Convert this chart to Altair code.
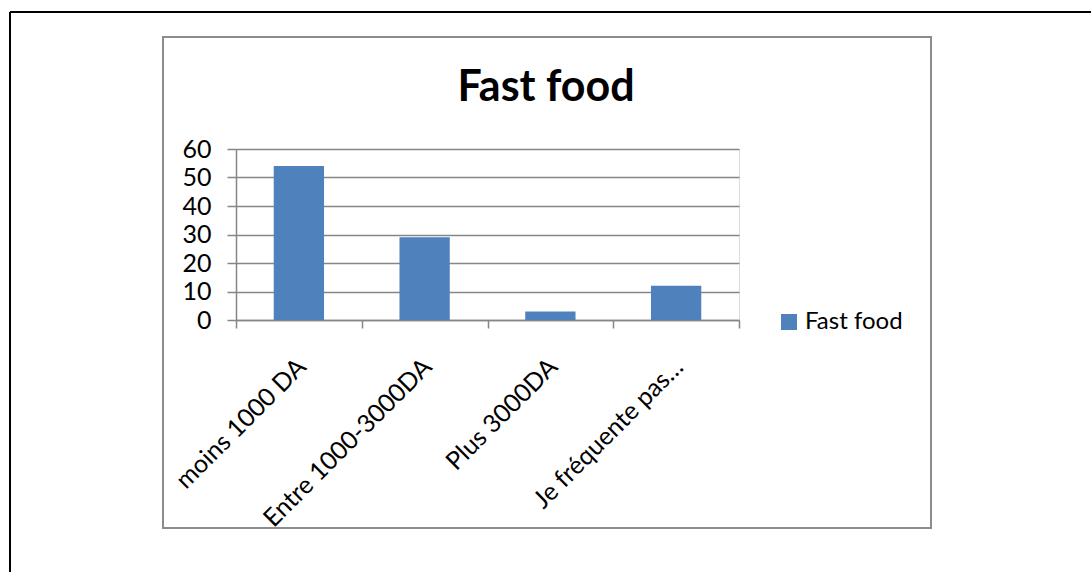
import altair as alt
import pandas as pd

# Spending categories and the share of answers for each
categories = ["moins 1000 DA", "Entre 1000-3000DA", "Plus 3000DA", "Je fréquente pas…"]
values = [54, 29, 3, 12]
series_name = "Fast food"
chart_title = "Fast food"

df = pd.DataFrame({"categorie": categories, "valeur": values, "serie": series_name})

FONT = "Lato"
GRAY = "#868686"
BLUE = "#4f81bd"
TEXT_SIZE = 25

one_row = alt.Data(values=[{}])

# Page frame (top and left edges) and the chart-area border
page_top = alt.Chart(one_row).mark_rule(color="black", strokeWidth=2).encode(
    x=alt.value(-226), x2=alt.value(860), y=alt.value(-137)
)
page_left = alt.Chart(one_row).mark_rule(color="black", strokeWidth=2).encode(
    x=alt.value(-226), y=alt.value(-137), y2=alt.value(430)
)
chart_box = alt.Chart(one_row).mark_rect(
    fillOpacity=0, stroke="#8c8c8c", strokeWidth=2
).encode(
    x=alt.value(-73), x2=alt.value(695), y=alt.value(-112), y2=alt.value(379)
)

# Chart heading, centred over the chart area
heading = alt.Chart(one_row).mark_text(
    text=chart_title,
    font=FONT,
    fontSize=43,
    fontWeight="bold",
    color="black",
    align="center",
    baseline="alphabetic",
).encode(x=alt.value(310), y=alt.value(-48))

bars = alt.Chart(df).mark_bar(width=alt.RelativeBandSize(0.4), color=BLUE).encode(
    x=alt.X(
        "categorie:N",
        sort=None,
        scale=alt.Scale(paddingInner=0, paddingOuter=0),
        axis=alt.Axis(
            title=None,
            labelAngle=-45,
            labelAlign="right",
            labelBaseline="top",
            labelPadding=26,
            labelOffset=-6,
            labelFont=FONT,
            labelFontSize=TEXT_SIZE,
            labelColor="black",
            tickBand="extent",
            tickSize=8,
            tickColor=GRAY,
            tickWidth=1.5,
            domainColor=GRAY,
            domainWidth=1.5,
            grid=False,
            labelLimit=400,
        ),
    ),
    y=alt.Y(
        "valeur:Q",
        scale=alt.Scale(domain=[0, 60], nice=False),
        axis=alt.Axis(
            title=None,
            values=[0, 10, 20, 30, 40, 50, 60],
            labelFont=FONT,
            labelFontSize=TEXT_SIZE,
            labelColor="black",
            labelPadding=16,
            tickSize=9,
            tickColor=GRAY,
            tickWidth=1.5,
            domainColor=GRAY,
            domainWidth=1.5,
            grid=True,
            gridColor=GRAY,
            gridWidth=1.5,
        ),
    ),
    color=alt.Color(
        "serie:N",
        scale=alt.Scale(range=[BLUE]),
        legend=alt.Legend(
            title=None,
            orient="none",
            legendX=541,
            legendY=161,
            symbolType="square",
            symbolSize=256,
            symbolStrokeWidth=0,
            labelFont=FONT,
            labelFontSize=24,
            labelColor="black",
            labelOffset=4,
        ),
    ),
)

chart = (
    alt.layer(page_top, page_left, chart_box, heading, bars)
    .properties(
        width=503,
        height=171,
        autosize=alt.AutoSizeParams(type="none"),
        padding={"left": 236, "top": 149, "right": 352, "bottom": 252},
    )
    .configure_view(stroke=None)
    .configure(background="white")
)

chart.save("out.html", embed_options={"renderer": "svg", "actions": False})
